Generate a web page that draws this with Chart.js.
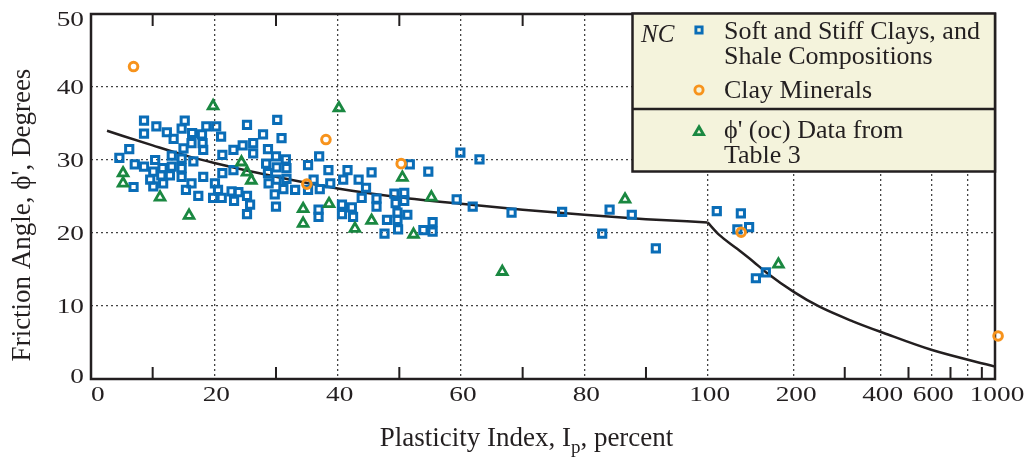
<!DOCTYPE html>
<html>
<head>
<meta charset="utf-8">
<script src="https://cdn.jsdelivr.net/npm/chart.js@4.4.1/dist/chart.umd.min.js"></script>
<style>
  html, body { margin: 0; padding: 0; background: #fff; }
  #wrap { width: 1033px; height: 462px; }
</style>
</head>
<body>
<div id="wrap"><canvas id="phiChart" width="1033" height="462"></canvas></div>
<script>
// Soft and stiff clays, shale compositions (NC)
const soilIp = [8.6, 8.6, 10.6, 12.3, 13.4, 15.2, 14.7, 16.4, 18.0, 18.7, 16.3, 15.0, 18.1, 18.2, 6.2, 4.6,
  13.1, 14.7, 16.6, 7.1, 8.6, 10.4, 10.1, 11.6, 13.1, 14.7, 11.4, 12.8, 14.7, 9.6, 11.7, 10.1, 6.9, 16.3,
  15.4, 18.2, 17.4, 19.8, 20.3, 21.1, 25.3, 27.9, 30.2, 30.9, 24.6, 26.3, 26.3, 28.7, 23.1, 21.3, 30.0,
  31.6, 28.4, 30.1, 31.7, 35.2, 23.1, 21.3, 28.7, 30.1, 31.7, 33.1, 28.8, 31.2, 29.8, 20.1, 20.6, 22.8,
  23.9, 25.3, 21.2, 23.2, 25.8, 30.0, 25.3, 35.2, 37.0, 38.5, 41.6, 45.5, 51.7, 40.9, 43.4, 38.8, 37.1,
  44.6, 36.1, 43.9, 46.3, 49.2, 50.8, 50.8, 49.4, 40.7, 42.3, 46.3, 36.9, 36.9, 40.7, 42.5, 48.0, 49.7,
  51.3, 49.7, 47.6, 49.8, 53.9, 55.4, 55.4, 59.9, 63.0, 54.7, 59.3, 61.9, 68.2, 76.4, 84.1, 87.7, 82.9,
  91.6, 107.6, 130.5, 139.4, 126.9, 159.4, 147.2];
const soilPhi = [35.4, 33.6, 34.6, 33.8, 32.9, 35.4, 34.3, 33.7, 33.5, 34.6, 32.3, 31.6, 32.3, 31.4, 31.5, 30.3,
  30.6, 30.2, 29.8, 29.4, 29.1, 30.0, 28.4, 28.9, 29.1, 28.9, 27.9, 27.9, 27.7, 27.3, 26.8, 26.4, 26.3, 26.8,
  25.9, 27.7, 25.1, 24.8, 34.6, 33.2, 34.8, 33.5, 35.5, 33.0, 32.0, 32.3, 30.9, 31.5, 31.4, 30.7, 30.5,
  30.1, 29.5, 29.0, 28.9, 29.3, 28.6, 28.2, 28.2, 27.3, 27.4, 25.9, 26.8, 26.0, 25.3, 26.8, 25.9, 25.7,
  25.6, 25.1, 24.8, 24.4, 23.9, 23.6, 22.6, 25.9, 30.5, 28.6, 28.6, 28.3, 29.4, 27.3, 27.3, 26.8, 26.0,
  26.2, 27.3, 24.8, 24.7, 25.4, 25.5, 24.4, 24.1, 23.9, 23.5, 23.6, 23.2, 22.2, 22.6, 22.2, 21.8, 22.8,
  22.5, 21.8, 19.9, 20.5, 20.4, 21.5, 20.2, 31.0, 30.1, 28.4, 24.6, 23.6, 22.8, 22.9, 23.2, 22.5, 19.9,
  17.9, 23.0, 22.7, 20.8, 20.5, 14.6, 13.8];

// Clay minerals
const mineralIp = [6.9, 38.1, 35.0, 50.3, 130.8, 1025];
const mineralPhi = [42.8, 32.8, 26.7, 29.5, 20.1, 5.9];

// phi' (oc) data from Table 3
const ocIp = [5.2, 5.2, 11.2, 15.9, 19.8, 24.4, 25.3, 26.0, 34.4, 34.4, 40.2, 38.6, 45.5, 42.8, 50.5, 55.2,
  52.3, 66.7, 86.6, 176.3];
const ocPhi = [28.2, 26.8, 24.9, 22.4, 37.4, 29.7, 28.3, 27.2, 23.3, 21.3, 37.1, 24.0, 21.7, 20.6, 27.6, 24.9,
  19.8, 14.7, 24.6, 15.7];

// NC trend line, linear branch (Ip <= 100) and log branch (Ip >= 100)
const trendLinIp = [2.6, 10, 15, 20, 30, 40, 50, 60, 70, 80, 90, 100];
const trendLinPhi = [34.0, 32.0, 30.7, 29.6, 27.7, 26.1, 24.9, 24.0, 23.2, 22.5, 21.9, 21.45];
const trendLogIp = [100, 110, 126, 144, 160, 200, 245, 320, 410, 600, 1000];
const trendLogPhi = [21.45, 19.7, 17.9, 16.1, 14.6, 11.9, 9.9, 7.9, 6.3, 4.0, 1.7];

// axis ticks
const xGridValues = [0, 20, 40, 60, 80, 100, 200, 400, 600, 800, 1000];
const xLabelValues = [0, 20, 40, 60, 80, 100, 200, 400, 600, 1000];
const xMinorTicks = [10, 30, 50, 70, 90, 300, 500, 700, 900];
const yTickValues = [0, 10, 20, 30, 40, 50];

const INK = '#231f20';
const BLUE = '#0a6db7';
const ORANGE = '#f7931c';
const GREEN = '#1a8841';
const SERIF = "'Liberation Serif', 'Times New Roman', serif";
const TICK_STRETCH = 1.3;

// 0-100 is linear, 100-1000 is one log decade squeezed onto the right
const LOG_SPAN = 46.6;
function ipToAxis(v) { return v <= 100 ? v : 100 + Math.log10(v / 100) * LOG_SPAN; }
function axisToIp(u) { return u <= 100 ? u : 100 * Math.pow(10, (u - 100) / LOG_SPAN); }

class LinLogScale extends Chart.Scale {
  static id = 'linlog';
  static defaults = {};
  determineDataLimits() { this.min = 0; this.max = 1000; }
  buildTicks() { return xGridValues.map(v => ({ value: v })); }
  getLabelForValue(v) { return String(v); }
  getPixelForValue(v) { return this.getPixelForDecimal(ipToAxis(v) / ipToAxis(this.max)); }
  getValueForPixel(p) { return axisToIp(this.getDecimalForPixel(p) * ipToAxis(this.max)); }
}
Chart.register(LinLogScale);

const pairs = (xs, ys) => xs.map((v, i) => ({ x: v, y: ys[i] }));

function stretchedText(ctx, text, x, y, align) {
  const w = ctx.measureText(text).width * TICK_STRETCH;
  const left = align === 'right' ? x - w : align === 'center' ? x - w / 2 : x;
  ctx.save();
  ctx.translate(left, y);
  ctx.scale(TICK_STRETCH, 1);
  ctx.textAlign = 'left';
  ctx.fillText(text, 0, 0);
  ctx.restore();
}

const frameAndText = {
  id: 'frameAndText',
  beforeDatasetsDraw(chart) {
    const { ctx, chartArea: a } = chart;
    const xs = chart.scales.x;
    ctx.save();
    ctx.strokeStyle = INK;
    ctx.lineWidth = 2.5;
    ctx.strokeRect(a.left, a.top, a.right - a.left, a.bottom - a.top);
    ctx.lineWidth = 2;
    ctx.beginPath();
    xMinorTicks.forEach(v => {
      const px = xs.getPixelForValue(v);
      ctx.moveTo(px, a.bottom); ctx.lineTo(px, a.bottom - 12);
      ctx.moveTo(px, a.top); ctx.lineTo(px, a.top + 12);
    });
    ctx.stroke();
    ctx.restore();
  },
  afterDraw(chart) {
    const { ctx, chartArea: a } = chart;
    const xs = chart.scales.x, ys = chart.scales.y;
    ctx.save();
    ctx.fillStyle = INK;
    ctx.textBaseline = 'alphabetic';

    // tick labels
    ctx.font = '21px ' + SERIF;
    xLabelValues.forEach(v => {
      const w = ctx.measureText(String(v)).width * TICK_STRETCH;
      let cx = xs.getPixelForValue(v) + 2;
      cx = Math.max(cx, a.left + w / 2);
      stretchedText(ctx, String(v), cx, a.bottom + 22, 'center');
    });
    yTickValues.forEach(v => {
      let py = ys.getPixelForValue(v);
      py = Math.max(a.top + 4.5, Math.min(a.bottom - 3.5, py));
      stretchedText(ctx, String(v), a.left - 7, py + 7, 'right');
    });

    // axis titles
    ctx.font = '27px ' + SERIF;
    ctx.save();
    ctx.translate(30, 215);
    ctx.rotate(-Math.PI / 2);
    ctx.textAlign = 'center';
    ctx.fillText("Friction Angle, \u03d5', Degrees", 0, 0);
    ctx.restore();

    const partA = 'Plasticity Index, I', partSub = 'p', partB = ', percent';
    ctx.font = '27px ' + SERIF;
    const wA = ctx.measureText(partA).width, wB = ctx.measureText(partB).width;
    ctx.font = '19px ' + SERIF;
    const wS = ctx.measureText(partSub).width;
    let tx = 526.5 - (wA + wS + wB) / 2;
    const ty = 446;
    ctx.textAlign = 'left';
    ctx.font = '27px ' + SERIF;
    ctx.fillText(partA, tx, ty);
    tx += wA;
    ctx.font = '19px ' + SERIF;
    ctx.fillText(partSub, tx, ty + 7);
    tx += wS;
    ctx.font = '27px ' + SERIF;
    ctx.fillText(partB, tx, ty);

    // legend box
    const bx = 632.5, by = 13.5, bw = a.right - 632.5, bh = 158;
    ctx.fillStyle = '#f4f3dc';
    ctx.fillRect(bx, by, bw, bh);
    ctx.strokeStyle = INK;
    ctx.lineWidth = 2.5;
    ctx.strokeRect(bx, by, bw, bh);
    ctx.beginPath();
    ctx.moveTo(bx, 109); ctx.lineTo(bx + bw, 109);
    ctx.stroke();

    ctx.fillStyle = INK;
    ctx.font = 'italic 25px ' + SERIF;
    ctx.fillText('NC', 641, 42);

    const marker = (style, color, r, x, y) => {
      ctx.save();
      ctx.strokeStyle = color;
      ctx.lineWidth = 2.9;
      ctx.fillStyle = 'rgba(0,0,0,0)';
      Chart.helpers.drawPoint(ctx, { pointStyle: style, radius: r, rotation: 0, borderWidth: 2.9 }, x, y);
      ctx.restore();
    };
    marker('rect', BLUE, 4.4, 699, 30);
    marker('circle', ORANGE, 4.1, 699, 90);
    marker('triangle', GREEN, 5.2, 699, 132);

    ctx.fillStyle = INK;
    ctx.font = '26px ' + SERIF;
    ctx.fillText('Soft and Stiff Clays, and', 724, 38.5);
    ctx.fillText('Shale Compositions', 724, 64);
    ctx.fillText('Clay Minerals', 724, 98);
    ctx.fillText("\u03d5' (oc) Data from", 724, 137.5);
    ctx.fillText('Table 3', 724, 163);
    ctx.restore();
  }
};

const markerBase = { showLine: false, clip: false, backgroundColor: 'rgba(0,0,0,0)', pointBackgroundColor: 'rgba(0,0,0,0)' };

new Chart(document.getElementById('phiChart'), {
  type: 'scatter',
  data: {
    datasets: [
      { ...markerBase, label: 'Clay Minerals', data: pairs(mineralIp, mineralPhi),
        pointStyle: 'circle', pointRadius: 4.3, borderWidth: 3, pointBorderWidth: 3,
        borderColor: ORANGE, pointBorderColor: ORANGE },
      { ...markerBase, label: "\u03d5' (oc) Data from Table 3", data: pairs(ocIp, ocPhi),
        pointStyle: 'triangle', pointRadius: 5.6, borderWidth: 2.8, pointBorderWidth: 2.8,
        borderColor: GREEN, pointBorderColor: GREEN },
      { ...markerBase, label: 'Soft and Stiff Clays, and Shale Compositions', data: pairs(soilIp, soilPhi),
        pointStyle: 'rect', pointRadius: 5.1, borderWidth: 3, pointBorderWidth: 3,
        borderColor: BLUE, pointBorderColor: BLUE },
      { type: 'line', label: 'NC trend', data: pairs(trendLinIp, trendLinPhi), showLine: true,
        borderColor: INK, borderWidth: 2.5, pointRadius: 0, cubicInterpolationMode: 'monotone', fill: false },
      { type: 'line', label: 'NC trend (log)', data: pairs(trendLogIp, trendLogPhi), showLine: true,
        borderColor: INK, borderWidth: 2.5, pointRadius: 0, cubicInterpolationMode: 'monotone', fill: false }
    ]
  },
  options: {
    responsive: false,
    animation: false,
    events: [],
    layout: { padding: { left: 91, right: 38, top: 14, bottom: 83 } },
    plugins: { legend: { display: false }, tooltip: { enabled: false } },
    scales: {
      x: {
        type: 'linlog',
        ticks: { display: false },
        border: { display: false, dash: [2, 3] },
        grid: {
          drawTicks: false,
          lineWidth: 1.3,
          color: c => (c.tick && c.tick.value > 0 && c.tick.value < 1000) ? '#444' : 'rgba(0,0,0,0)'
        }
      },
      y: {
        type: 'linear',
        min: 0,
        max: 50,
        ticks: { display: false, stepSize: 10 },
        border: { display: false, dash: [2, 3] },
        grid: {
          drawTicks: false,
          lineWidth: 1.3,
          color: c => (c.tick && c.tick.value > 0 && c.tick.value < 50) ? '#444' : 'rgba(0,0,0,0)'
        }
      }
    }
  },
  plugins: [frameAndText]
});
</script>
</body>
</html>
